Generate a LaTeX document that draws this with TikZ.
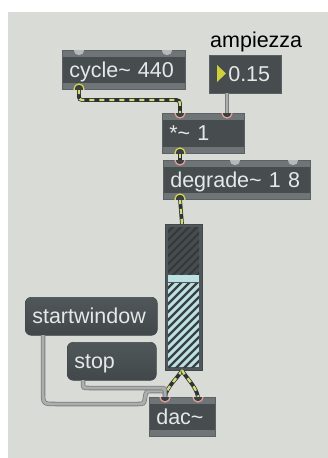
\documentclass[tikz,border=0pt]{standalone}
\usepackage{fontspec}
\setmainfont{Liberation Sans}
\definecolor{canvasbg}{HTML}{D9DBD7}
\definecolor{body}{HTML}{474D4F}
\definecolor{strip}{HTML}{6F7577}
\definecolor{edge}{HTML}{5C6264}
\definecolor{boxtext}{HTML}{E4E8E8}
\definecolor{msgtop}{HTML}{50575A}
\definecolor{msgbot}{HTML}{42484A}
\definecolor{portfill}{HTML}{3A4042}
\definecolor{pinkring}{HTML}{E8A29B}
\definecolor{yellowring}{HTML}{D8D44C}
\definecolor{greyport}{HTML}{B5B9BA}
\definecolor{sigdark}{HTML}{2E3232}
\definecolor{sigyellow}{HTML}{D3DD78}
\definecolor{cordgrey}{HTML}{ABAEAD}
\definecolor{cordedge}{HTML}{7A7E7D}
\definecolor{meterframe}{HTML}{50575A}
\definecolor{meterdark}{HTML}{474D4F}
\definecolor{hatchtop}{HTML}{343A3C}
\definecolor{meterlight}{HTML}{BDE0E2}
\definecolor{hatchlow}{HTML}{394042}
\definecolor{arrowyellow}{HTML}{D2CE3E}
\newcommand\portring[4]{%
  \begin{scope}
    \clip (#1.north west) rectangle (#1.south east);
    \filldraw[fill=portfill, draw=#4, line width=1.2pt] (#2,#3) circle (5);
  \end{scope}}
\newcommand\portgrey[3]{%
  \begin{scope}
    \clip (#1.north west) rectangle (#1.south east);
    \fill[greyport] (#2,#3) circle (5.2);
  \end{scope}}
\begin{document}
\begin{tikzpicture}[x=1pt, y=-1pt,
  txt/.style={font=\fontsize{21.5}{25}\selectfont},
  box/.style={txt, anchor=north west, inner xsep=7pt, inner ysep=0pt,
    text height=15pt, text depth=0pt, align=left, text=boxtext},
  obj/.style={box, fill=body, draw=edge, line width=0.6pt,
    path picture={
      \fill[strip] (path picture bounding box.north west) rectangle
        ([yshift=-7pt]path picture bounding box.north east);
      \fill[strip] (path picture bounding box.south west) rectangle
        ([yshift=6pt]path picture bounding box.south east);
    }},
  numbox/.style={box, fill=body, draw=edge, line width=0.6pt},
  msg/.style={box, rounded corners=6pt, top color=msgtop, bottom color=msgbot,
    draw=msgbot, line width=0.6pt},
  sigcord/.style={draw=sigdark, line width=3.8pt,
    postaction={draw=sigyellow, line width=2.3pt, dash pattern=on 5pt off 5pt}},
  ctlcord/.style={draw=cordedge, line width=0.8pt, double=cordgrey,
    double distance=2.9pt}
]
\useasboundingbox (0,0) rectangle (328,458);
\fill[white] (0,0) rectangle (328,458);
\fill[canvasbg] (8,12) rectangle (328,458);

% objects
\node[obj, text width=109pt, minimum height=39pt] (cyc) at (62,50) {cycle\textasciitilde{} 440};
\node[numbox, text width=58pt, minimum height=38pt] (num) at (209,55) {\hspace*{12pt}0.15};
\node[obj, text width=68pt, minimum height=40pt] (mul) at (162,113) {*\textasciitilde{} 1};
\node[obj, text width=133pt, minimum height=39pt] (deg) at (163,160) {degrade\textasciitilde{} 1 8};
\node[msg, text width=118pt, minimum height=38pt] (start) at (25,297) {startwindow};
\node[msg, text width=75pt, minimum height=38pt] (stop) at (67,342) {stop};
\node[obj, text width=52pt, minimum height=39pt] (dac) at (149,397) {dac\textasciitilde};
\node[anchor=base west, inner sep=0pt, txt, text=black] (amp) at (210,47) {ampiezza};

% number box arrow
\fill[arrowyellow] (217,65) -- (226,73.5) -- (217,82) -- cycle;

% level meter
\node[anchor=north west, inner sep=0pt, minimum width=37pt, minimum height=146pt,
  fill=meterframe, draw=meterframe!85!black, line width=0.6pt] (meter) at (165,224) {};
\begin{scope}
  \clip (168,227) rectangle (199,274);
  \fill[meterdark] (168,227) rectangle (199,274);
  \foreach \c in {384,392,...,488}
    \draw[hatchtop, line width=2pt] (\c-200,200) -- (\c-300,300);
\end{scope}
\fill[meterlight] (168,275) rectangle (199,281.5);
\begin{scope}
  \clip (168,283) rectangle (199,367);
  \fill[meterlight] (168,283) rectangle (199,367);
  \foreach \c in {440,448,...,584}
    \draw[hatchlow, line width=2.4pt] (\c-200,200) -- (\c-400,400);
\end{scope}

% patch cords
\coordinate (cyc-o) at (79,89);
\coordinate (mul-i1) at (180,113);
\coordinate (mul-i2) at (227,113);
\coordinate (num-o) at (227,93);
\coordinate (mul-o) at (180,153);
\coordinate (deg-i1) at (180,160);
\coordinate (deg-o) at (180,199);
\coordinate (meter-i) at (182,224);
\coordinate (meter-o) at (182,370);
\coordinate (dac-i1) at (165,397);
\coordinate (dac-i2) at (198,397);
\coordinate (start-o) at (43,335);
\coordinate (stop-o) at (83,380);

\draw[sigcord] (cyc-o) -- (79,94) .. controls (79,100) .. (86,100) -- (172,100)
  .. controls (180,100) .. (180,107) -- (mul-i1);
\draw[ctlcord] (num-o) -- (mul-i2);
\draw[sigcord] (mul-o) -- (deg-i1);
\draw[sigcord] (deg-o) -- (meter-i);
\draw[sigcord] (meter-o) .. controls (178,378) and (167,386) .. (dac-i1);
\draw[sigcord] (meter-o) .. controls (186,378) and (196,386) .. (dac-i2);
\draw[ctlcord] (start-o) -- (43,391) .. controls (43,404) .. (56,404) -- (137,404)
  .. controls (144,404) .. (145,398) .. controls (146,391) .. (153,391) -- (159,391)
  .. controls (165,391) .. (dac-i1);
\draw[ctlcord] (stop-o) -- (83,383) .. controls (83,388) .. (89,388) -- (160,388)
  .. controls (165,388) .. (165,393) -- (dac-i1);

% inlets and outlets
\portgrey{cyc}{79}{50}
\portgrey{cyc}{167}{50}
\portring{cyc}{79}{89}{yellowring}
\portring{mul}{180}{113}{pinkring}
\portring{mul}{227}{113}{pinkring}
\portring{mul}{180}{153}{yellowring}
\portring{deg}{180}{160}{pinkring}
\portgrey{deg}{235}{160}
\portgrey{deg}{293}{160}
\portring{deg}{180}{199}{yellowring}
\portring{dac}{165}{397}{pinkring}
\portring{dac}{198}{397}{pinkring}
\end{tikzpicture}
\end{document}
